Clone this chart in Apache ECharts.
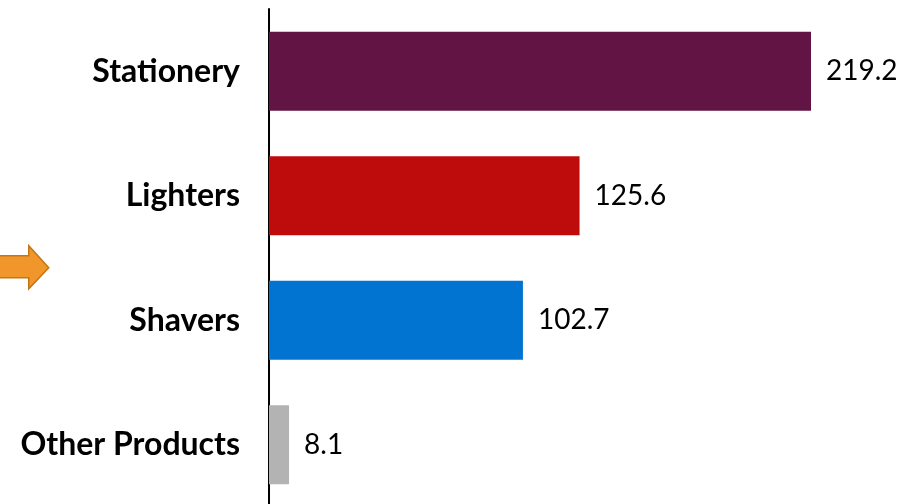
<!DOCTYPE html>
<html><head><meta charset="utf-8">
<script src="https://cdn.jsdelivr.net/npm/echarts@6/dist/echarts.min.js"></script>
<style>html,body{margin:0;padding:0;background:#fff;overflow:hidden}#c{width:902px;height:512px}</style>
</head><body><div id="c"></div>
<script>
const categories = ['Stationery', 'Lighters', 'Shavers', 'Other Products'];
const values = [219.2, 125.6, 102.7, 8.1];
const colors = ['#621545', '#BE0C0C', '#0074D0', '#B3B3B3'];

const chart = echarts.init(document.getElementById('c'));
chart.setOption({
  animation: false,
  grid: { left: 269, right: 91, top: 9, height: 498 },
  xAxis: { type: 'value', min: 0, max: 219.2, show: false },
  yAxis: {
    type: 'category', data: categories, inverse: true,
    axisLine: { show: true, lineStyle: { color: '#000', width: 2 } },
    axisTick: { show: false },
    axisLabel: { color: '#000', fontFamily: 'Lato', fontWeight: 'bold', fontSize: 32, margin: 29 }
  },
  series: [{
    type: 'bar', barWidth: 79,
    data: values.map((v, i) => ({ value: v, itemStyle: { color: colors[i] } })),
    label: { show: true, position: 'right', distance: 15, color: '#000', fontFamily: 'Lato', fontSize: 28 }
  }],
  graphic: [{
    type: 'polygon', left: -2, top: 245,
    shape: { points: [[0,10],[30,10],[30,0],[50,22],[30,43],[30,32],[0,32]] },
    style: { fill: '#F0962A', stroke: '#C47516', lineWidth: 1.5 }
  }]
});
</script></body></html>
